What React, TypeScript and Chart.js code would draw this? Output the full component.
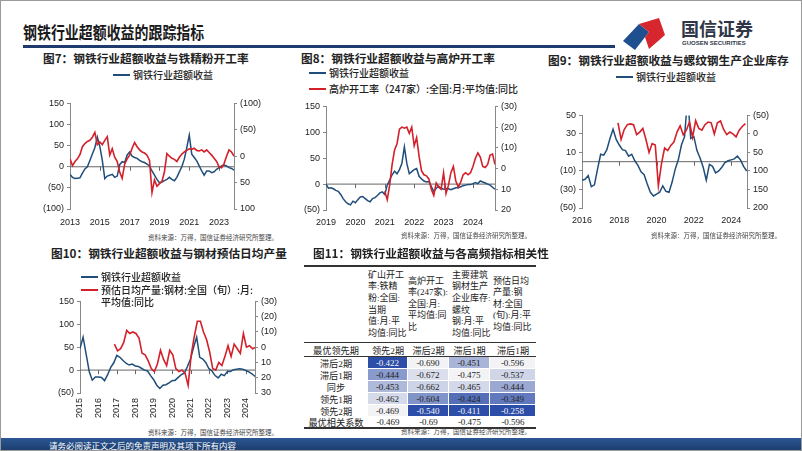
import React, { useEffect, useRef } from "react";
import { Chart, registerables } from "chart.js";
Chart.register(...registerables);

const SANS = '"Noto Sans CJK SC", "Noto Sans", sans-serif';
const LAT = '"Liberation Sans", Arial, sans-serif';
const SERIF = '"Liberation Serif", "Noto Sans CJK SC", serif';
const BLUE = "#1f4e7a";
const RED = "#d3202a";

// ---------- Fig 7 ----------
const YEARS_7 = [2013, 2015, 2017, 2019, 2021, 2023];
const LEFT_TICKS_7 = [-100, -50, 0, 50, 100, 150];
const RIGHT_TICKS_7 = [-100, -50, 0, 50, 100];
const EXCESS_7_START = 2013;
const EXCESS_7 = [-18, -25, -28, -27, -26, -15, -5, 0, 15, 30, 45, 70, 48, 15, -28, -22, -20, -18, -25, -22, 5, 12, 10, 28, 35, 25, 22, 20, 15, 12, 10, 6, 2, -10, -20, -30, -38, -36, -33, -30, -25, -30, -33, -25, -12, 0, 18, 45, 75, 30, 22, 14, 2, -10, -20, -10, -10, -14, -12, -6, -2, 2, 4, 2, -2, -4, -8];
const ORE_7_START = 2013;
const ORE_7 = [5, 18, 10, 5, -3, -18, -24, -28, -30, -36, -45, -22, -27, -22, -30, -37, -2, -14, 2, 10, 30, 42, 15, 5, -2, -15, -26, -18, -12, -8, -6, -2, 8, 69, 45, 57, 52, 48, 30, -5, 0, 4, 6, 10, 2, -4, -8, -11, -14, -13, -15, -11, -10, -12, -8, -12, -7, -2, 4, 10, 20, 22, 14, 0, -12, -8, 0];

// ---------- Fig 8 ----------
const YEARS_8 = [2019, 2020, 2021, 2022, 2023, 2024];
const LEFT_TICKS_8 = [-50, 0, 50, 100, 150];
const RIGHT_TICKS_8 = [-30, -20, -10, 0, 10, 20];
const EXCESS_8_START = 2019;
const EXCESS_8 = [0, -8, -7, -9, -12, -14, -20, -28, -34, -38, -40, -33, -36, -30, -25, -24, -28, -32, -34, -28, -26, -22, -17, -15, -20, -2, 8, 18, 25, 20, 28, 40, 72, 40, 20, 24, 28, 30, 15, 10, 6, 4, 5, -5, -14, -8, -4, -8, -10, -9, -9, -11, -9, -7, -7, -5, -3, -2, -1, -1, 1, 3, 1, 6, 4, 2, 0, -2, -6, -10];
const FURNACE_8_START = 2021;
const FURNACE_8 = [11, 15, 8, -2, -9, -12, -19, -20, -19.5, -20, -17, -20, -11, -15, -6, 1, 3, 3.5, 5, 10, 13, 7, 9, 10, 2, 12, 8, 2, -1, 6, 9, 6.5, 3, 2, 3, 2, -1, -5, -7.5, -5.5, -1, -0.5, -2, -6.5, -7, -2];

// ---------- Fig 9 ----------
const YEARS_9 = [2016, 2018, 2020, 2022, 2024];
const LEFT_TICKS_9 = [-50, -30, -10, 10, 30, 50];
const RIGHT_TICKS_9 = [-50, 0, 50, 100, 150, 200];
const EXCESS_9_START = 2016;
const EXCESS_9 = [-20, -19, -15, -27, -25, -8, 8, 7, 13, 25, 35, 24, 18, 13, 12, 6, 8, 1, -4, -11, -14, -24, -33, -37, -35, -33, -26, -32, -33, -22, -8, 2, 18, 27, 70, 25, 27, 12, 4, -6, -20, -3, -5, -12, -10, -6, -1, 1, 2, 3, 6, 2, -5, -10];
const REBAR_9_START = 2017.93;
const REBAR_9 = [-30, 15, -12, -25, -27, -25, 2, -5, -15, 15, 50, 26, 30, 140, 80, 38, 45, 31, 22, -5, -22, 2, -10, -32, 9, -36, -15, -10, -25, -32, -30, 0, -30, -35, -12, 2, -5, 0, 8, -10, -20, -28];

// ---------- Fig 10 ----------
const YEARS_10 = [2015, 2016, 2017, 2018, 2019, 2020, 2021, 2022, 2023, 2024];
const LEFT_TICKS_10 = [-50, 0, 50, 100, 150];
const RIGHT_TICKS_10 = [-30, -20, -10, 0, 10, 20, 30];
const EXCESS_10_START = 2015;
const EXCESS_10 = [47, 72, 35, -3, -22, -15, -15, -16, -23, -10, 6, 16, 32, 28, 21, 15, 11, 13, 9, 8, 4, 0, -2, -12, -21, -33, -40, -33, -32, -28, -23, -22, -16, -10, -7, 8, 24, 50, 72, 28, 24, 16, 3, -2, -12, -17, -9, -12, -3, -3, 1, 2, 3, 2, -1, -4, -8, -14];
const OUTPUT_10_START = 2016.87;
const OUTPUT_10 = [-2, 2.4, 1, -3, -11, -9, -10, -9, -6, 4, 5, 9, 14, 16, 11, 2, 8, 12, 2, 5, 14, 16, 15, 17, 25, 5, -7, -17, -17, -10, -5, 3, 14, 15, 10, 12, 6, -1, 6, -2, 1, 4, -9, 0, -1, 1, 0];

// ---------- Fig 11 ----------
const T_HEADERS = [
  ["矿山开工", "率:铁精", "粉:全国:", "当期", "值:月:平", "均值:同比"],
  ["高炉开工", "率(247家):", "全国:月:", "平均值:同", "比"],
  ["主要建筑", "钢材生产", "企业库存:", "螺纹", "钢:月:平", "均值:同比"],
  ["预估日均", "产量:钢", "材:全国", "(旬):月:平", "均值:同比"],
];
const T_BEST_LAG_LABEL = "最优领先期";
const T_BEST_LAG = ["领先2期", "滞后2期", "滞后1期", "滞后1期"];
const T_ROWS = ["滞后2期", "滞后1期", "同步", "领先1期", "领先2期"];
const T_VALUES = [
  [-0.422, -0.69, -0.451, -0.596],
  [-0.444, -0.672, -0.475, -0.537],
  [-0.453, -0.662, -0.465, -0.444],
  [-0.462, -0.604, -0.424, -0.349],
  [-0.469, -0.54, -0.411, -0.258],
];
const T_BEST_LABEL = "最优相关系数";
const T_BEST = ["-0.469", "-0.69", "-0.475", "-0.596"];

const SOURCE = "资料来源：万得，国信证券经济研究所整理。";

const series = (start: number, step: number, values: number[]) =>
  values.map((v, i) => ({ x: start + i * step, y: v }));
const fmt = (v: number) => (v < 0 ? `(${-v})` : String(v));

const zeroLine = {
  id: "zeroLine",
  beforeDatasetsDraw(chart: any) {
    const y = chart.scales.yL.getPixelForValue(0);
    const { left, right } = chart.chartArea;
    const ctx = chart.ctx;
    ctx.save();
    ctx.strokeStyle = "#666";
    ctx.lineWidth = 1;
    ctx.beginPath();
    ctx.moveTo(left, y);
    ctx.lineTo(right, y);
    chart.scales.x.ticks.forEach((t: any) => {
      const x = Math.round(chart.scales.x.getPixelForValue(t.value)) + 0.5;
      if (x > left + 2 && x < right - 2) {
        ctx.moveTo(x, y);
        ctx.lineTo(x, y + 4);
      }
    });
    ctx.stroke();
    ctx.restore();
  },
};

type CP = {
  left: number; top: number; width: number; height: number;
  xMin: number; xMax: number; xTicks: number[]; rot?: number; xH: number; xPad: number;
  lMin: number; lMax: number; lTicks: number[]; lW: number;
  rMin: number; rMax: number; rTicks: number[]; rW: number;
  blue: { x: number; y: number }[]; red: { x: number; y: number }[];
};

function DualChart(p: CP) {
  const ref = useRef<HTMLCanvasElement>(null);
  useEffect(() => {
    const tickFont = { family: LAT, size: 9 };
    const yAxis = (pos: string, min: number, max: number, ticks: number[], w: number, rev: boolean) => ({
      position: pos,
      min, max, reverse: rev,
      afterBuildTicks: (s: any) => { s.ticks = ticks.map((v) => ({ value: v })); },
      afterFit: (s: any) => { s.width = w; },
      grid: { display: true, drawOnChartArea: false, color: "#888", tickColor: "#888", tickLength: 3 },
      border: { display: true, color: "#888", width: 1 },
      ticks: { callback: (v: any) => fmt(Number(v)), font: tickFont, color: "#222", padding: 3 },
    });
    const chart = new Chart(ref.current as HTMLCanvasElement, {
      type: "line",
      data: {
        datasets: [
          { data: p.red, yAxisID: "yR", borderColor: RED, borderWidth: 1.6, pointRadius: 0, tension: 0 },
          { data: p.blue, yAxisID: "yL", borderColor: BLUE, borderWidth: 1.5, pointRadius: 0, tension: 0 },
        ],
      },
      options: {
        animation: false,
        responsive: false,
        layout: { padding: { top: 5, left: 0, right: 0, bottom: 0 } },
        plugins: { legend: { display: false }, tooltip: { enabled: false } },
        scales: {
          x: {
            type: "linear",
            min: p.xMin, max: p.xMax,
            afterBuildTicks: (s: any) => { s.ticks = p.xTicks.map((v) => ({ value: v })); },
            afterFit: (s: any) => { s.height = p.xH; },
            grid: { display: false, drawTicks: false, tickLength: 0 },
            border: { display: false },
            ticks: {
              callback: (v: any) => String(v), font: tickFont, color: "#222",
              padding: p.xPad, autoSkip: false,
              maxRotation: p.rot ?? 0, minRotation: p.rot ?? 0,
            },
          },
          yL: yAxis("left", p.lMin, p.lMax, p.lTicks, p.lW, false),
          yR: yAxis("right", p.rMin, p.rMax, p.rTicks, p.rW, true),
        } as any,
      },
      plugins: [zeroLine],
    } as any);
    return () => chart.destroy();
  }, []);
  return (
    <canvas
      ref={ref}
      width={p.width}
      height={p.height}
      style={{ position: "absolute", left: p.left, top: p.top, width: p.width, height: p.height }}
    />
  );
}

const Txt = ({ x, y, size, children, weight = 400, color = "#222", family = SANS, style = {} }: any) => (
  <div
    style={{
      position: "absolute", left: x, top: y - size * 0.6, fontSize: size, lineHeight: `${size * 1.2}px`,
      fontWeight: weight, color, fontFamily: family, whiteSpace: "nowrap", ...style,
    }}
  >
    {children}
  </div>
);

const Legend = ({ x, y, color, text, w = 17 }: any) => (
  <>
    <div style={{ position: "absolute", left: x, top: y - 1, width: w, height: 2, background: color }} />
    <Txt x={x + w + 3} y={y} size={10} weight={500}>{text}</Txt>
  </>
);

function heat(col: number, v: number) {
  const vals = T_VALUES.map((r) => r[col]);
  const mn = Math.min(...vals), mx = Math.max(...vals);
  const t = (v - mn) / (mx - mn);
  const a = [243, 243, 245], b = [44, 77, 168];
  const c = a.map((ai, i) => Math.round(ai + (b[i] - ai) * t));
  return { bg: `rgb(${c[0]},${c[1]},${c[2]})`, fg: t > 0.9 ? "#f4f4f4" : "#222" };
}

function Table() {
  const colW = [64, 40, 41, 41, 46];
  const cell = (w: number, extra: any = {}) => ({
    width: w, display: "flex", alignItems: "center", justifyContent: "center", boxSizing: "border-box" as const, ...extra,
  });
  return (
    <div style={{ position: "absolute", left: 303, top: 264, width: 232, fontFamily: SERIF, color: "#222", fontSize: 9.2 }}>
      <div style={{ borderTop: "2px solid #333", borderBottom: "1px solid #333", height: 75, display: "flex" }}>
        <div style={{ width: colW[0] }} />
        {T_HEADERS.map((lines, i) => (
          <div key={i} style={cell(colW[i + 1], { justifyContent: "flex-start", paddingLeft: i < 2 ? 0 : 3 })}>
            <div style={{ lineHeight: "11.6px", fontSize: 9 }}>
              {lines.map((l, j) => <div key={j} style={{ whiteSpace: "nowrap" }}>{l}</div>)}
            </div>
          </div>
        ))}
      </div>
      <div style={{ height: 13, display: "flex", borderBottom: "1px solid #333" }}>
        <div style={cell(colW[0])}>{T_BEST_LAG_LABEL}</div>
        {T_BEST_LAG.map((s, i) => <div key={i} style={cell(colW[i + 1])}>{s}</div>)}
      </div>
      {T_ROWS.map((r, ri) => (
        <div key={ri} style={{ height: 12, display: "flex" }}>
          <div style={cell(colW[0])}>{r}</div>
          {T_VALUES[ri].map((v, ci) => {
            const h = heat(ci, v);
            return (
              <div key={ci} style={cell(colW[ci + 1], { background: h.bg, color: h.fg, borderRight: "1px solid #fff", borderBottom: "1px solid #fff", fontSize: 9 })}>
                {v.toFixed(3)}
              </div>
            );
          })}
        </div>
      ))}
      <div style={{ height: 10, display: "flex", borderBottom: "2px solid #333" }}>
        <div style={cell(colW[0])}>{T_BEST_LABEL}</div>
        {T_BEST.map((s, i) => <div key={i} style={cell(colW[i + 1], { fontSize: 9 })}>{s}</div>)}
      </div>
    </div>
  );
}

export default function App() {
  return (
    <div style={{ position: "absolute", left: 0, top: 0, width: 802, height: 451, overflow: "hidden", background: "#fff", boxSizing: "border-box", border: "1px solid #9a9a9a" }}>
      {/* header */}
      <Txt x={22} y={31} size={17} weight={700} color="#1a1a1a" style={{ transform: "scaleX(0.82)", transformOrigin: "left center" }}>钢铁行业超额收益的跟踪指标</Txt>
      <div style={{ position: "absolute", left: 22, top: 44, width: 592, height: 3, background: "#1f3b6e" }} />
      <svg style={{ position: "absolute", left: 618, top: 14 }} width={52} height={36} viewBox="0 0 52 36">
        <polygon points="4,26 20,9 30,17 16,35" fill="#1f4f8f" />
        <polygon points="20,9 40,3 46,20 30,34 26,22 30,17" fill="#d7262e" />
      </svg>
      <Txt x={680} y={28} size={18} weight={700} color="#2f3647">国信证券</Txt>
      <Txt x={681} y={43} size={6} weight={700} color="#2f3647" family={LAT}>GUOSEN SECURITIES</Txt>

      {/* Fig 7 */}
      <Txt x={42} y={57} size={11.7} weight={700}>图7：钢铁行业超额收益与铁精粉开工率</Txt>
      <Legend x={112} y={74} color={BLUE} text="钢铁行业超额收益" />
      <DualChart left={28} top={94} width={240} height={136}
        xMin={2013} xMax={2024} xTicks={YEARS_7} xH={22} xPad={8}
        lMin={-100} lMax={150} lTicks={LEFT_TICKS_7} lW={41}
        rMin={-100} rMax={100} rTicks={RIGHT_TICKS_7} rW={35}
        blue={series(EXCESS_7_START, 1 / 6, EXCESS_7)} red={series(ORE_7_START, 1 / 6, ORE_7)} />
      <Txt x={147} y={237} size={6.5} color="#444">{SOURCE}</Txt>

      {/* Fig 8 */}
      <Txt x={300} y={57} size={11.7} weight={700}>图8：钢铁行业超额收益与高炉开工率</Txt>
      <Legend x={308} y={72} color={BLUE} text="钢铁行业超额收益" />
      <Legend x={308} y={88} color={RED} text="高炉开工率（247家）:全国:月:平均值:同比" />
      <DualChart left={285} top={97} width={240} height={134}
        xMin={2019} xMax={2024.75} xTicks={YEARS_8} xH={22} xPad={7}
        lMin={-50} lMax={150} lTicks={LEFT_TICKS_8} lW={40}
        rMin={-30} rMax={20} rTicks={RIGHT_TICKS_8} rW={31}
        blue={series(EXCESS_8_START, 1 / 12, EXCESS_8)} red={series(FURNACE_8_START, 1 / 12, FURNACE_8)} />
      <Txt x={400} y={235} size={6.5} color="#444">{SOURCE}</Txt>

      {/* Fig 9 */}
      <Txt x={547} y={59} size={11.7} weight={700}>图9：钢铁行业超额收益与螺纹钢生产企业库存</Txt>
      <Legend x={615} y={76} color={BLUE} text="钢铁行业超额收益" />
      <DualChart left={545} top={106} width={230} height={123}
        xMin={2016} xMax={2024.85} xTicks={YEARS_9} xH={22} xPad={7}
        lMin={-50} lMax={50} lTicks={LEFT_TICKS_9} lW={36}
        rMin={-50} rMax={200} rTicks={RIGHT_TICKS_9} rW={29}
        blue={series(EXCESS_9_START, 1 / 6, EXCESS_9)} red={series(REBAR_9_START, 1 / 6, REBAR_9)} />
      <Txt x={650} y={235} size={6.5} color="#444">{SOURCE}</Txt>

      {/* Fig 10 */}
      <Txt x={50} y={252} size={11.7} weight={700}>图10：钢铁行业超额收益与钢材预估日均产量</Txt>
      <DualChart left={40} top={292} width={245} height={128}
        xMin={2015} xMax={2024.5} xTicks={YEARS_10} xH={28} rot={90} xPad={5}
        lMin={-50} lMax={150} lTicks={LEFT_TICKS_10} lW={39}
        rMin={-30} rMax={30} rTicks={RIGHT_TICKS_10} rW={31}
        blue={series(EXCESS_10_START, 1 / 6, EXCESS_10)} red={series(OUTPUT_10_START, 1 / 6, OUTPUT_10)} />
      <Legend x={80} y={276} color={BLUE} text="钢铁行业超额收益" />
      <Legend x={80} y={289} color={RED} text="预估日均产量:钢材:全国（旬）:月:" />
      <Txt x={100} y={301} size={10} weight={500}>平均值:同比</Txt>
      <Txt x={147} y={432} size={6.5} color="#444">{SOURCE}</Txt>

      {/* Fig 11 */}
      <Txt x={312} y={252} size={11.7} weight={700}>图11：钢铁行业超额收益与各高频指标相关性</Txt>
      <Table />
      <Txt x={400} y={431} size={6.5} color="#444">{SOURCE}</Txt>

      {/* footer */}
      <div style={{ position: "absolute", left: 0, top: 437, width: 802, height: 14, background: "linear-gradient(#2b5793, #1a3a6a)" }} />
      <Txt x={48} y={444} size={8.5} color="#fff">请务必阅读正文之后的免责声明及其项下所有内容</Txt>
    </div>
  );
}
